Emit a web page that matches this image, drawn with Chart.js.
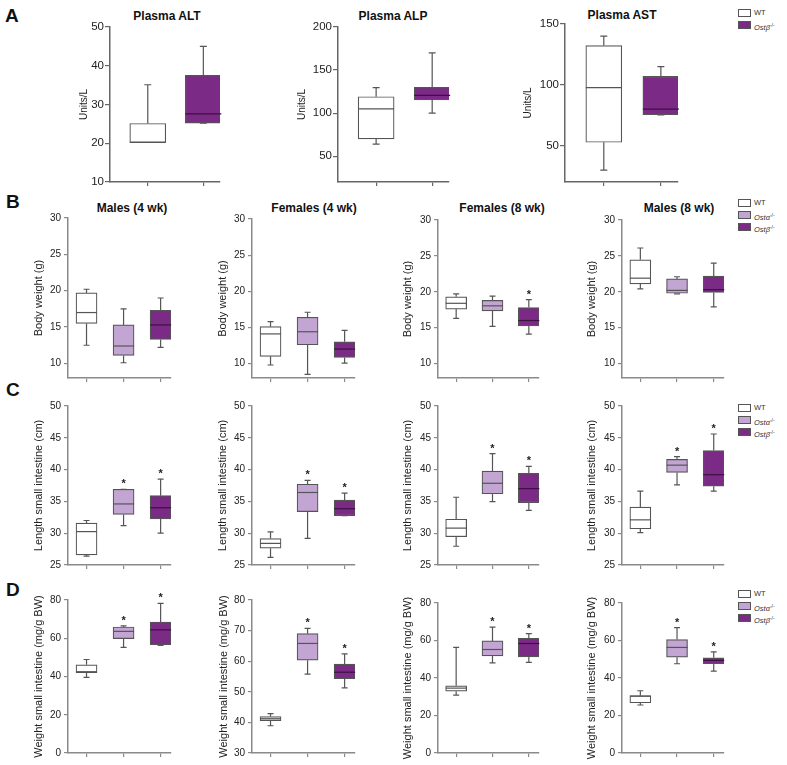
<!DOCTYPE html>
<html>
<head>
<meta charset="utf-8">
<script src="https://cdn.jsdelivr.net/npm/chart.js@4.4.0/dist/chart.umd.min.js"></script>
<style>
body { margin: 0; background: #fff; }
#fig { position: relative; width: 787px; height: 765px; font-family: "Liberation Sans", Arial, sans-serif; color: #222; }
#fig canvas { position: absolute; }
.letter { position: absolute; font-weight: bold; font-size: 19px; line-height: 19px; color: #111; }
.ttl { position: absolute; font-weight: bold; font-size: 12px; line-height: 12px; white-space: nowrap; transform: translate(-50%, -50%); color: #111; }
.lg { position: absolute; left: 738px; font-size: 7.5px; color: #333; }
.lg div { position: relative; height: 12px; line-height: 12px; padding-left: 16px; white-space: nowrap; }
.lg b { position: absolute; left: 0; top: 2px; width: 11px; height: 6px; border: 1px solid #555; }
.lg sup { font-size: 5px; vertical-align: 3px; }
</style>
</head>
<body>
<div id="fig">
  <div class="letter" style="left:5px;top:6px">A</div>
  <div class="letter" style="left:6px;top:192px">B</div>
  <div class="letter" style="left:6px;top:380px">C</div>
  <div class="letter" style="left:6px;top:580px">D</div>

  <div class="ttl" style="left:167px;top:15.5px">Plasma ALT</div>
  <div class="ttl" style="left:393px;top:15.5px">Plasma ALP</div>
  <div class="ttl" style="left:622px;top:15px">Plasma AST</div>
  <div class="ttl" style="left:132px;top:208px">Males (4 wk)</div>
  <div class="ttl" style="left:314px;top:208px">Females (4 wk)</div>
  <div class="ttl" style="left:502px;top:208px">Females (8 wk)</div>
  <div class="ttl" style="left:679px;top:208px">Males (8 wk)</div>

  <div class="lg" style="top:7px">
    <div><b style="background:#fff"></b>WT</div>
    <div><b style="background:#7b2a86"></b><i>Ostβ</i><sup>-/-</sup></div>
  </div>
  <div class="lg" style="top:197px">
    <div><b style="background:#fff"></b>WT</div>
    <div><b style="background:#c3a5d3"></b><i>Ostα</i><sup>-/-</sup></div>
    <div><b style="background:#7b2a86"></b><i>Ostβ</i><sup>-/-</sup></div>
  </div>
  <div class="lg" style="top:401.5px">
    <div><b style="background:#fff"></b>WT</div>
    <div><b style="background:#c3a5d3"></b><i>Ostα</i><sup>-/-</sup></div>
    <div><b style="background:#7b2a86"></b><i>Ostβ</i><sup>-/-</sup></div>
  </div>
  <div class="lg" style="top:587.5px">
    <div><b style="background:#fff"></b>WT</div>
    <div><b style="background:#c3a5d3"></b><i>Ostα</i><sup>-/-</sup></div>
    <div><b style="background:#7b2a86"></b><i>Ostβ</i><sup>-/-</sup></div>
  </div>
</div>

<script>
Chart.defaults.font.family = '"Liberation Sans", Arial, sans-serif';
Chart.defaults.color = '#222';

// each box: [low whisker, q1, median, q3, high whisker]
// panel A: WT, Ostb-/-
const plasmaALT = [[20.2, 20.2, 20.2, 25.1, 35.1], [25.2, 25.2, 27.6, 37.5, 45.0]];
const plasmaALP = [[64, 70, 105, 119, 129.5], [100, 115.4, 120.5, 129.8, 170]];
const plasmaAST = [[29.8, 52.7, 97.6, 132.3, 140], [75.3, 75.3, 80, 107, 115]];

// panels B-D: WT, Osta-/-, Ostb-/-
const bwMales4   = [[12.5, 15.5, 17.0, 19.7, 20.2], [10.1, 11.1, 12.4, 15.3, 17.5], [12.2, 13.3, 15.3, 17.3, 19.0]];
const bwFemales4 = [[9.8, 11.0, 14.1, 15.1, 15.8], [8.5, 12.6, 14.4, 16.4, 17.1], [10.05, 10.85, 12.0, 13.0, 14.6]];
const bwFemales8 = [[16.3, 17.6, 18.4, 19.3, 19.7], [15.2, 17.35, 18.05, 18.8, 19.4], [14.1, 15.25, 16.0, 17.8, 18.9]];
const bwMales8   = [[20.4, 21.1, 21.9, 24.45, 26.1], [19.7, 19.8, 20.2, 21.8, 22.1], [17.9, 19.9, 20.3, 22.2, 24.0]];

const lenMales4   = [[26.4, 26.6, 30.25, 31.6, 32.0], [31.2, 32.95, 34.6, 36.9, 36.9], [30.0, 32.25, 34.0, 35.9, 38.5]];
const lenFemales4 = [[26.2, 27.65, 28.4, 29.15, 30.2], [29.2, 33.4, 36.4, 37.7, 38.3], [32.75, 32.75, 33.85, 35.2, 36.3]];
const lenFemales8 = [[27.95, 29.45, 30.8, 32.2, 35.65], [34.95, 36.2, 37.85, 39.75, 42.5], [33.6, 34.8, 37.0, 39.4, 40.5]];
const lenMales8   = [[30.1, 30.7, 32.1, 34.1, 36.6], [37.6, 39.55, 40.7, 41.6, 42.05], [36.6, 37.4, 39.2, 43.0, 45.6]];

const wtMales4   = [[39.5, 42.0, 42.5, 46.1, 48.9], [55.2, 59.8, 63.6, 65.9, 66.5], [56.2, 56.6, 64.4, 68.5, 78.2]];
const wtFemales4 = [[38.9, 40.6, 41.2, 41.9, 42.9], [55.8, 60.35, 65.8, 69.0, 70.7], [51.3, 54.3, 56.4, 59.05, 62.4]];
const wtFemales8 = [[30.9, 33.0, 34.6, 35.85, 56.3], [48.1, 51.8, 55.2, 59.8, 67.1], [48.3, 51.3, 58.4, 61.1, 63.7]];
const wtMales8   = [[25.6, 26.8, 30.4, 30.5, 33.2], [47.6, 51.1, 56.3, 60.5, 66.9], [43.7, 47.6, 49.4, 50.75, 53.95]];

// significance stars (1 = *)
const sigNone = [0, 0, 0];
const sigB3   = [0, 0, 1];
const sigKO   = [0, 1, 1];

// tick labels
const ticksALT = [10, 20, 30, 40, 50];
const ticksALP = [50, 100, 150, 200];
const ticksAST = [50, 100, 150];
const ticksBW  = [10, 15, 20, 25, 30];
const ticksLen = [25, 30, 35, 40, 45, 50];
const ticksWt  = [0, 20, 40, 60, 80];
const ticksWt2 = [30, 40, 50, 60, 70, 80];

const WHITE = '#ffffff', LILAC = '#c3a5d3', PURPLE = '#7b2a86';

const styleA = { axis: '#666', tickFont: 11.5, tickLen: 5, tickPad: 1, titleFont: 10, box: 36, cap: 7, xMin: 0.32, xMax: 2.3 };
const styleB = { axis: '#8a8a8a', tickFont: 10, tickLen: 4, tickPad: 3, titleFont: 11, box: 21, cap: 6, xMin: 0.5, xMax: 3.28 };

const boxWhiskers = {
    id: 'boxWhiskers',
    afterDatasetsDraw(chart, args, opts) {
        const ctx = chart.ctx;
        const x = chart.scales.x, y = chart.scales.y;
        ctx.save();
        ctx.lineWidth = 1.2;
        opts.stats.forEach((b, i) => {
            const cx = x.getPixelForValue(i + 1);
            const [lo, q1, med, q3, hi] = b.map(v => y.getPixelForValue(v));
            const h = opts.cap / 2;
            ctx.strokeStyle = '#555';
            ctx.beginPath();
            ctx.moveTo(cx, q3); ctx.lineTo(cx, hi);
            ctx.moveTo(cx - h, hi); ctx.lineTo(cx + h, hi);
            ctx.moveTo(cx, q1); ctx.lineTo(cx, lo);
            ctx.moveTo(cx - h, lo); ctx.lineTo(cx + h, lo);
            ctx.stroke();
            ctx.strokeStyle = opts.medians[i];
            ctx.beginPath();
            ctx.moveTo(cx - opts.box / 2, med); ctx.lineTo(cx + opts.box / 2, med);
            ctx.stroke();
            if (opts.sig[i]) {
                ctx.fillStyle = '#222';
                ctx.font = 'bold 11px "Liberation Sans", Arial, sans-serif';
                ctx.textAlign = 'center';
                ctx.textBaseline = 'middle';
                ctx.fillText('*', cx, hi - 5);
            }
        });
        ctx.restore();
    }
};

const panels = [
    { stats: plasmaALT, sig: [0, 0], yMin: 10, yMax: 50, yTicks: ticksALT, yTitle: 'Units/L', ax: 110, top: 27, bottom: 182, right: 220, off: 25.3, s: styleA },
    { stats: plasmaALP, sig: [0, 0], yMin: 20, yMax: 200, yTicks: ticksALP, yTitle: 'Units/L', ax: 338, top: 27, bottom: 182, right: 449, off: 36, s: styleA },
    { stats: plasmaAST, sig: [0, 0], yMin: 20, yMax: 150, yTicks: ticksAST, yTitle: 'Units/L', ax: 565, top: 24, bottom: 182, right: 678, off: 36.3, s: styleA },

    { stats: bwMales4, sig: sigNone, yMin: 8, yMax: 30, yTicks: ticksBW, yTitle: 'Body weight (g)', ax: 68, top: 218, bottom: 378, right: 171, off: 29, s: styleB },
    { stats: bwFemales4, sig: sigNone, yMin: 8, yMax: 30, yTicks: ticksBW, yTitle: 'Body weight (g)', ax: 252, top: 219, bottom: 378, right: 355, off: 29, s: styleB },
    { stats: bwFemales8, sig: sigB3, yMin: 8, yMax: 30, yTicks: ticksBW, yTitle: 'Body weight (g)', ax: 438, top: 220, bottom: 378, right: 539, off: 30.5, s: styleB },
    { stats: bwMales8, sig: sigNone, yMin: 8, yMax: 30, yTicks: ticksBW, yTitle: 'Body weight (g)', ax: 622, top: 220, bottom: 378, right: 724, off: 30.5, s: styleB },

    { stats: lenMales4, sig: sigKO, yMin: 25, yMax: 50, yTicks: ticksLen, yTitle: 'Length small intestine (cm)', ax: 68, top: 406, bottom: 565, right: 171, off: 29, s: styleB },
    { stats: lenFemales4, sig: sigKO, yMin: 25, yMax: 50, yTicks: ticksLen, yTitle: 'Length small intestine (cm)', ax: 252, top: 406, bottom: 565, right: 355, off: 29, s: styleB },
    { stats: lenFemales8, sig: sigKO, yMin: 25, yMax: 50, yTicks: ticksLen, yTitle: 'Length small intestine (cm)', ax: 438, top: 406, bottom: 565, right: 539, off: 30.3, s: styleB },
    { stats: lenMales8, sig: sigKO, yMin: 25, yMax: 50, yTicks: ticksLen, yTitle: 'Length small intestine (cm)', ax: 622, top: 406, bottom: 565, right: 724, off: 30.3, s: styleB },

    { stats: wtMales4, sig: sigKO, yMin: 0, yMax: 80, yTicks: ticksWt, yTitle: 'Weight small intestine (mg/g BW)', ax: 68, top: 600, bottom: 753, right: 171, off: 29, s: styleB },
    { stats: wtFemales4, sig: sigKO, yMin: 30, yMax: 80, yTicks: ticksWt2, yTitle: 'Weight small intestine (mg/g BW)', ax: 252, top: 600, bottom: 753, right: 355, off: 28.5, s: styleB },
    { stats: wtFemales8, sig: sigKO, yMin: 0, yMax: 80, yTicks: ticksWt, yTitle: 'Weight small intestine (mg/g BW)', ax: 438, top: 603, bottom: 753, right: 539, off: 30.3, s: styleB },
    { stats: wtMales8, sig: sigKO, yMin: 0, yMax: 80, yTicks: ticksWt, yTitle: 'Weight small intestine (mg/g BW)', ax: 622, top: 603, bottom: 753, right: 724, off: 30.3, s: styleB }
];

function makeChart(p) {
    const s = p.s;
    const YW = 60, PT = 12, XH = 8, PB = 2, PR = 4;
    const cv = document.createElement('canvas');
    cv.width = YW + (p.right - p.ax) + PR;
    cv.height = PT + (p.bottom - p.top) + XH + PB;
    cv.style.left = (p.ax - YW) + 'px';
    cv.style.top = (p.top - PT) + 'px';
    document.getElementById('fig').appendChild(cv);

    const colors = p.stats.length === 2 ? [WHITE, PURPLE] : [WHITE, LILAC, PURPLE];
    const medians = colors.map(c => c === PURPLE ? '#3a1240' : '#555');

    return new Chart(cv, {
        type: 'bar',
        data: {
            datasets: [{
                data: p.stats.map((b, i) => ({ x: i + 1, y: [b[1], b[3]] })),
                backgroundColor: colors,
                borderColor: '#555',
                borderWidth: 1.2,
                borderSkipped: false,
                barThickness: s.box
            }]
        },
        options: {
            responsive: false,
            animation: false,
            layout: { padding: { top: PT, right: PR, bottom: PB, left: 0 } },
            scales: {
                x: {
                    type: 'linear',
                    min: s.xMin,
                    max: s.xMax,
                    offset: false,
                    afterBuildTicks: sc => { sc.ticks = p.stats.map((b, i) => ({ value: i + 1 })); },
                    afterFit: sc => { sc.height = XH; },
                    ticks: { callback: () => '' },
                    grid: { offset: false, drawOnChartArea: false, tickLength: 4, color: s.axis, lineWidth: 1.2 },
                    border: { color: s.axis, width: 1.5 }
                },
                y: {
                    min: p.yMin,
                    max: p.yMax,
                    beginAtZero: false,
                    afterBuildTicks: sc => { sc.ticks = p.yTicks.map(v => ({ value: v })); },
                    afterFit: sc => { sc.width = YW; },
                    ticks: { font: { size: s.tickFont }, padding: s.tickPad, color: '#222' },
                    grid: { drawOnChartArea: false, tickLength: s.tickLen, color: s.axis, lineWidth: 1.2 },
                    border: { color: s.axis, width: 1.5 },
                    title: {
                        display: true,
                        text: p.yTitle,
                        color: '#222',
                        font: { size: s.titleFont },
                        padding: { top: YW - p.off - s.titleFont * 0.6, bottom: 0 }
                    }
                }
            },
            plugins: {
                legend: { display: false },
                tooltip: { enabled: false },
                boxWhiskers: { stats: p.stats, sig: p.sig, cap: s.cap, box: s.box, medians: medians }
            }
        },
        plugins: [boxWhiskers]
    });
}

panels.forEach(makeChart);
</script>
</body>
</html>
